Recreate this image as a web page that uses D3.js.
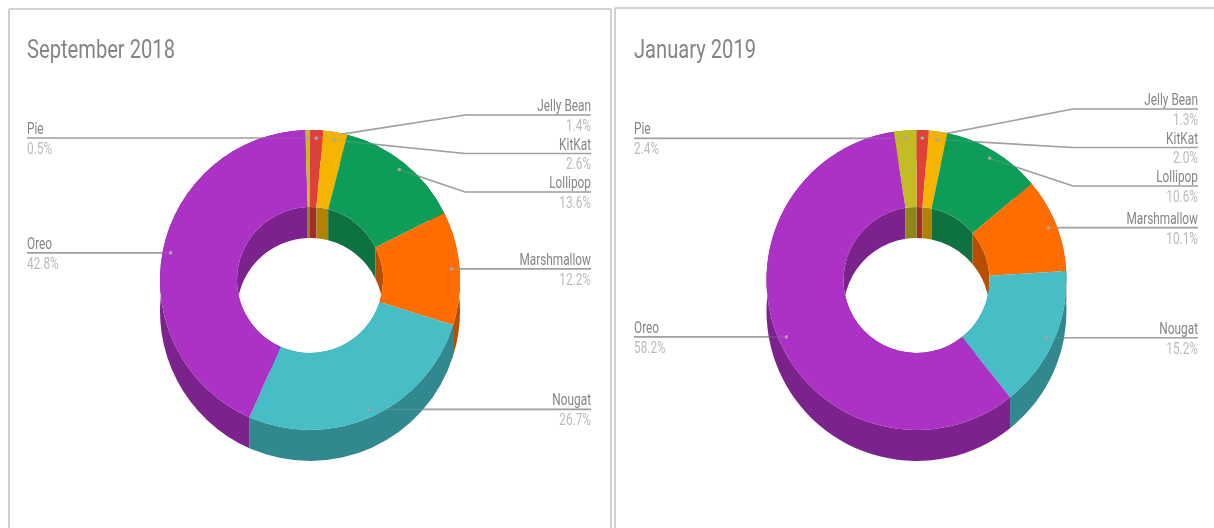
<!DOCTYPE html>
<html>
<head>
<meta charset="utf-8">
<script src="https://cdn.jsdelivr.net/npm/d3@7"></script>
<style>
  html, body { margin: 0; padding: 0; background: #fff; }
  svg { display: block; font-family: Roboto, sans-serif; }
</style>
</head>
<body>
<div id="chart"></div>
<script>
const categories = ["Jelly Bean", "KitKat", "Lollipop", "Marshmallow", "Nougat", "Oreo", "Pie"];
const sept2018 = [1.4, 2.6, 13.6, 12.2, 26.7, 42.8, 0.5];
const jan2019 = [1.3, 2.0, 10.6, 10.1, 15.2, 58.2, 2.4];
const sliceColors = ["#e0403a", "#f4b400", "#0f9d58", "#ff6d00", "#46bdc6", "#ab30c4", "#c3bc20"];

const width = 1214;
const height = 528;

const outerR = 150;
const innerR = 73;
const anchorR = 142;
const depth = 31;
const squeeze = 0.74;
const titleSqueeze = 0.775;

const svg = d3.select("#chart").append("svg")
    .attr("width", width)
    .attr("height", height);

const defs = svg.append("defs");
defs.append("filter").attr("id", "soft")
    .append("feGaussianBlur").attr("stdDeviation", 0.5);

const page = svg.append("g").attr("filter", "url(#soft)");

// panel borders
const borders = [
    [9, 9, 611, 9], [9, 9, 9, 528], [611, 9, 611, 528],
    [615, 8, 1214, 8], [615, 8, 615, 528]
];
page.selectAll("line.border")
    .data(borders)
    .enter()
    .append("line")
    .attr("class", "border")
    .attr("x1", d => d[0])
    .attr("y1", d => d[1])
    .attr("x2", d => d[2])
    .attr("y2", d => d[3])
    .attr("stroke", "#c4c4c4")
    .attr("stroke-width", 1.6);

const color = d3.scaleOrdinal().domain(categories).range(sliceColors);
const wallColor = name => d3.color(color(name)).darker(0.92).formatRgb();

const pie = d3.pie().sort(null).startAngle(0).endAngle(2 * Math.PI);
const faceArc = d3.arc().innerRadius(innerR).outerRadius(outerR);
const anchorArc = d3.arc().innerRadius(anchorR).outerRadius(anchorR);

// band of a circle between the rim at y=0 and the same rim moved down by depth
function wallPath(r, a0, a1) {
    const x = a => r * Math.sin(a);
    const y = a => -r * Math.cos(a);
    const large = a1 - a0 > Math.PI ? 1 : 0;
    return `M${x(a0)},${y(a0)}A${r},${r} 0 ${large} 1 ${x(a1)},${y(a1)}` +
        `L${x(a1)},${y(a1) + depth}A${r},${r} 0 ${large} 0 ${x(a0)},${y(a0) + depth}Z`;
}

function drawDonut(title, values, cx, cy, titleX, leftX, rightX, elbowX, firstY) {
    const slices = pie(values).map((d, i) => Object.assign(d, { name: categories[i] }));

    page.append("text")
        .attr("transform", `translate(${titleX},58) scale(${titleSqueeze},1)`)
        .attr("font-size", 26)
        .attr("fill", "#858585")
        .text(title);

    // right side labels stack from the top, left side ones stay level with their slice
    let prevY = -Infinity;
    const labels = slices.map(d => {
        const p = anchorArc.centroid(d);
        const right = (d.startAngle + d.endAngle) / 2 < Math.PI;
        const ax = cx + p[0];
        const ay = cy + p[1];
        let ly = ay;
        if (right) {
            ly = prevY === -Infinity ? firstY : Math.max(ay, prevY + 38.5);
            prevY = ly;
        }
        return { name: d.name, value: d.data, ax, ay, ly, right };
    });

    const leaderPath = d => {
        if (!d.right) return `M${leftX},${d.ly}L${d.ax},${d.ly}`;
        if (Math.abs(d.ly - d.ay) < 1) return `M${d.ax},${d.ly}L${rightX},${d.ly}`;
        return `M${d.ax},${d.ay}L${elbowX},${d.ly}L${rightX},${d.ly}`;
    };

    page.append("g").selectAll("path")
        .data(labels)
        .enter()
        .append("path")
        .attr("d", leaderPath)
        .attr("fill", "none")
        .attr("stroke", "#a0a0a0")
        .attr("stroke-width", 1.7);

    const g = page.append("g").attr("transform", `translate(${cx},${cy})`);

    g.append("g").selectAll("path")
        .data(slices)
        .enter()
        .append("path")
        .attr("d", d => wallPath(outerR, d.startAngle, d.endAngle))
        .attr("fill", d => wallColor(d.name));

    g.append("g").selectAll("path")
        .data(slices)
        .enter()
        .append("path")
        .attr("d", d => wallPath(innerR, d.startAngle, d.endAngle))
        .attr("fill", d => wallColor(d.name));

    g.append("g").selectAll("path")
        .data(slices)
        .enter()
        .append("path")
        .attr("d", faceArc)
        .attr("fill", d => color(d.name));

    // leaders show only faintly across the slices
    page.append("g").selectAll("path")
        .data(labels)
        .enter()
        .append("path")
        .attr("d", leaderPath)
        .attr("fill", "none")
        .attr("stroke", "#a6a6a6")
        .attr("stroke-width", 1.2)
        .attr("opacity", 0.3);

    page.append("g").selectAll("circle")
        .data(labels)
        .enter()
        .append("circle")
        .attr("cx", d => d.ax)
        .attr("cy", d => d.ay)
        .attr("r", 1.8)
        .attr("fill", "#a6a6a6");

    const label = page.append("g").selectAll("g")
        .data(labels)
        .enter()
        .append("g")
        .attr("transform", d => `translate(${d.right ? rightX : leftX},${d.ly}) scale(${squeeze},1)`)
        .attr("text-anchor", d => d.right ? "end" : "start")
        .attr("font-size", 16);

    label.append("text")
        .attr("y", -4)
        .attr("fill", "#858585")
        .text(d => d.name);

    label.append("text")
        .attr("y", 16)
        .attr("fill", "#bbbbbb")
        .text(d => d.value.toFixed(1) + "%");
}

drawDonut("September 2018", sept2018, 310, 280, 27, 27, 591, 465, 115);
drawDonut("January 2019", jan2019, 916.5, 280, 634, 634, 1198, 1073, 109);
</script>
</body>
</html>
